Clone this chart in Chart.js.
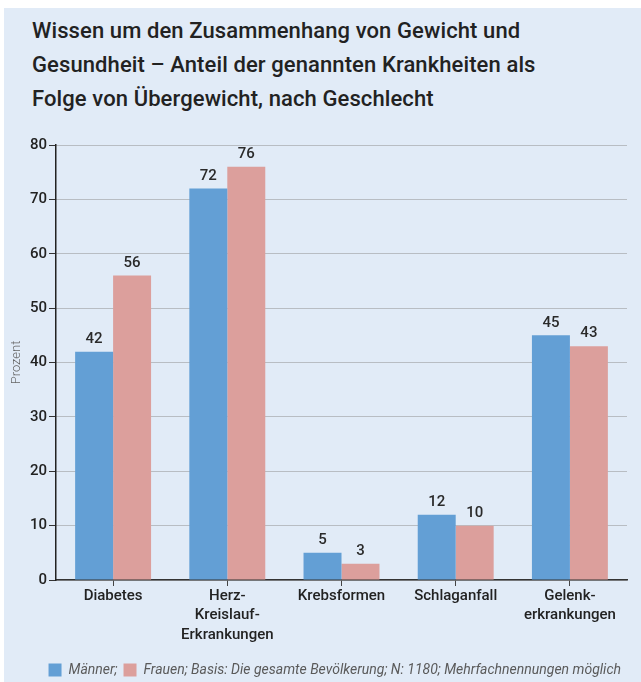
<!DOCTYPE html>
<html><head><meta charset="utf-8">
<script src="https://cdn.jsdelivr.net/npm/chart.js@4.4.1/dist/chart.umd.min.js"></script>
<style>
html,body{margin:0;padding:0;background:#fff;width:641px;height:682px;overflow:hidden;}
#panel{position:absolute;left:4px;top:8px;width:637px;height:674px;background:#e1ebf7;}
#title{position:absolute;left:32px;top:14px;font-family:Roboto,sans-serif;font-weight:500;font-size:22px;line-height:34px;color:#222;letter-spacing:0.1px;}
#wrap{position:absolute;left:0;top:0;width:641px;height:682px;}
</style></head>
<body>
<div id="panel"></div>
<div id="title">Wissen um den Zusammenhang von Gewicht und<br>Gesundheit – Anteil der genannten Krankheiten als<br>Folge von Übergewicht, nach Geschlecht</div>
<div id="wrap"><canvas id="c" width="641" height="682"></canvas></div>
<script>
const categories = ["Diabetes", ["Herz-","Kreislauf-","Erkrankungen"], "Krebsformen", "Schlaganfall", ["Gelenk-","erkrankungen"]];
const maenner = [42, 72, 5, 12, 45];
const frauen = [56, 76, 3, 10, 43];
const seriesNames = ["Männer;", "Frauen; Basis: Die gesamte Bevölkerung; N: 1180; Mehrfachnennungen möglich"];
const yTicks = [0, 10, 20, 30, 40, 50, 60, 70, 80];

const valueLabels = {
  id: 'valueLabels',
  afterDatasetsDraw(chart) {
    const ctx = chart.ctx;
    ctx.save();
    ctx.font = '500 15px Roboto, sans-serif';
    ctx.fillStyle = '#2a2a2a';
    ctx.textAlign = 'center';
    ctx.textBaseline = 'bottom';
    chart.data.datasets.forEach((ds, i) => {
      chart.getDatasetMeta(i).data.forEach((bar, j) => {
        ctx.fillText(String(ds.data[j]), bar.x, bar.y - 5);
      });
    });
    ctx.restore();
  }
};

new Chart(document.getElementById('c'), {
  type: 'bar',
  data: {
    labels: categories,
    datasets: [
      { label: seriesNames[0], data: maenner, backgroundColor: '#639fd5' },
      { label: seriesNames[1], data: frauen, backgroundColor: '#dc9f9c' }
    ]
  },
  options: {
    responsive: false,
    animation: false,
    devicePixelRatio: 1,
    layout: { padding: { left: 3, right: 14, top: 145, bottom: -5 } },
    datasets: { bar: { categoryPercentage: 0.665, barPercentage: 1.0 } },
    plugins: {
      legend: {
        position: 'bottom',
        align: 'end',
        labels: {
          boxWidth: 13, boxHeight: 13, padding: 6,
          font: { family: 'Roboto, sans-serif', size: 14, style: 'italic', weight: 400 },
          color: '#5a5a5a'
        }
      },
      title: { display: false },
      tooltip: { enabled: false }
    },
    scales: {
      x: {
        grid: { display: true, drawOnChartArea: false, drawTicks: true, tickLength: 6, tickColor: '#444', offset: false },
        border: { display: true, color: '#333', width: 1.5 },
        ticks: { color: '#222', font: { family: 'Roboto, sans-serif', size: 15, weight: 500, lineHeight: 1.32 }, padding: 0, maxRotation: 0, autoSkip: false },
        afterFit(s) { s.height = 77; }
      },
      y: {
        min: 0, max: 80,
        afterBuildTicks(s) { s.ticks = yTicks.map(v => ({ value: v })); },
        grid: { color: '#8f8f8f', lineWidth: 1, drawTicks: true, tickLength: 7, tickColor: '#333', tickBorderDash: [] },
        border: { display: true, color: '#222', width: 1.5, dash: [1, 1] },
        ticks: { color: '#222', font: { family: 'Roboto, sans-serif', size: 15, weight: 500 }, padding: 2 },
        title: { display: true, text: 'Prozent', color: '#666', font: { family: 'Roboto, sans-serif', size: 13, weight: 300 }, padding: { top: 6, bottom: 2 } },
        afterFit(s) { s.width = 53; }
      }
    }
  },
  plugins: [valueLabels]
});
</script>
</body></html>
